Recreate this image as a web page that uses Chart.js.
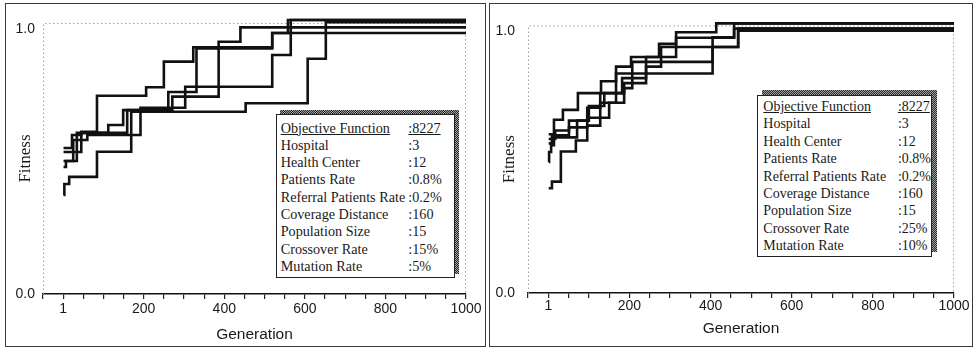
<!DOCTYPE html>
<html><head><meta charset="utf-8">
<script src="https://cdn.jsdelivr.net/npm/chart.js@4.4.0/dist/chart.umd.min.js"></script>
<style>
html,body{margin:0;padding:0;background:#fff;}
body{width:973px;height:348px;position:relative;overflow:hidden;}
.panel{position:absolute;border:1.5px solid #3a3a3a;box-sizing:border-box;}
.cv{position:absolute;}
.shadow{position:absolute;background:repeating-conic-gradient(#2a2a2a 0 25%, #a0a0a0 0 50%) 0 0/2px 2px;}
.info{position:absolute;background:#fff;border:1px solid #222;box-sizing:border-box;font-family:'Liberation Serif','Times New Roman',serif;color:#1a1a1a;}
.info table{border-collapse:collapse;}
.info td{padding:0;white-space:nowrap;}
.info tr:first-child td{text-decoration:underline;}
</style></head>
<body>
<div class="panel" style="left:5px;top:3px;width:481px;height:344px;"></div>
<div class="panel" style="left:489px;top:3px;width:484px;height:344px;"></div>
<canvas id="leftChart" class="cv" width="478" height="341" style="left:6px;top:4px;"></canvas>
<canvas id="rightChart" class="cv" width="480" height="341" style="left:491px;top:4px;"></canvas>
<div class="shadow" style="left:280px;top:110px;width:179px;height:164px;"></div>
<div class="info" id="leftInfo" style="left:276px;top:114px;width:179px;height:164px;padding:4.6px 0 0 3.7px;font-size:14.2px;line-height:17.3px;"></div>
<div class="shadow" style="left:762px;top:90px;width:175px;height:162px;"></div>
<div class="info" id="rightInfo" style="left:757px;top:95px;width:175px;height:162px;padding:2px 0 0 5.3px;font-size:14px;line-height:17.4px;"></div>
<script>
// ---- Left panel: crossover 15%, mutation 5% ----
const leftGen1=[1,22,45,84,206,250,323,519,1000];
const leftFit1=[0.551,0.600,0.612,0.748,0.780,0.877,0.931,0.985,0.985];
const leftGen2=[1,7,34,112,149,261,331,519,558,1000];
const leftFit2=[0.479,0.502,0.608,0.638,0.694,0.762,0.927,0.985,1.034,1.034];
const leftGen3=[1,45,159,271,386,440,1000];
const leftFit3=[0.536,0.608,0.694,0.745,0.952,1.006,1.006];
const leftGen4=[1,25,60,192,303,519,565,1000];
const leftFit4=[0.502,0.581,0.600,0.703,0.782,0.902,1.034,1.034];
const leftGen5=[1,3,15,84,169,453,607,652,1000];
const leftFit5=[0.374,0.415,0.442,0.537,0.688,0.720,0.888,1.026,1.026];

// ---- Right panel: crossover 25%, mutation 10% ----
const rightGen1=[1,14,36,73,130,167,204,273,315,414,1000];
const rightFit1=[0.606,0.661,0.699,0.763,0.808,0.864,0.901,0.951,0.995,1.029,1.029];
const rightGen2=[1,17,51,96,128,182,241,315,458,1000];
const rightFit2=[0.588,0.620,0.658,0.707,0.763,0.820,0.901,0.974,1.029,1.029];
const rightGen3=[1,2,7,14,71,100,138,187,241,278,468,1000];
const rightFit3=[0.500,0.538,0.564,0.594,0.658,0.714,0.763,0.801,0.864,0.939,1.009,1.009];
const rightGen4=[1,9,51,96,150,187,207,405,468,1000];
const rightFit4=[0.571,0.602,0.632,0.669,0.726,0.782,0.882,0.939,1.001,1.001];
const rightGen5=[1,9,31,68,96,128,167,405,458,1000];
const rightFit5=[0.400,0.425,0.540,0.582,0.639,0.726,0.838,0.976,1.009,1.009];

// ---- Axis ticks ----
const xMin=-50, xMax=1000, xStep=50;
const xLabelled=[200,400,600,800,1000];
const yTickValues=[0,1];

// ---- Parameter boxes ----
const paramNames=['Objective Function','Hospital','Health Center','Patients Rate','Referral Patients Rate','Coverage Distance','Population Size','Crossover Rate','Mutation Rate'];
const leftParams=[':8227',':3',':12',':0.8%',':0.2%',':160',':15',':15%',':5%'];
const rightParams=[':8227',':3',':12',':0.8%',':0.2%',':160',':15',':25%',':10%'];

function fillInfo(id, values, colW){
  const el=document.getElementById(id);
  let h='<table>';
  paramNames.forEach((n,i)=>{h+='<tr><td style="width:'+colW+'px">'+n+'</td><td>'+values[i]+'</td></tr>';});
  el.innerHTML=h+'</table>';
}
fillInfo('leftInfo',leftParams,127.6);
fillInfo('rightInfo',rightParams,135);

const framePlugin={id:'frame',beforeDatasetsDraw(chart){
  const {ctx,chartArea:a}=chart;
  ctx.save();ctx.strokeStyle='#a0a0a0';ctx.lineWidth=1;ctx.setLineDash([1.5,2.5]);
  ctx.beginPath();
  ctx.moveTo(a.left+0.5,a.bottom);ctx.lineTo(a.left+0.5,a.top+0.5);
  ctx.lineTo(a.right-0.5,a.top+0.5);ctx.lineTo(a.right-0.5,a.bottom);
  ctx.stroke();ctx.restore();
}};

function xLabel(v){
  if(v===0) return '1';
  return xLabelled.includes(v)?String(v):'';
}

function makeChart(id, series, g){
  return new Chart(document.getElementById(id),{
    type:'line',
    data:{datasets:series.map(s=>({
      data:s[0].map((x,i)=>({x:x,y:s[1][i]})),
      stepped:true,borderColor:'#111',borderWidth:2.6,pointRadius:0,fill:false,clip:false,tension:0
    }))},
    options:{
      responsive:false,animation:false,
      layout:{padding:{left:0,top:g.padTop,right:g.padRight,bottom:0}},
      plugins:{legend:{display:false},tooltip:{enabled:false}},
      scales:{
        x:{type:'linear',min:xMin,max:xMax,
          afterFit:s=>{s.height=g.xH;},
          ticks:{stepSize:xStep,autoSkip:false,maxRotation:0,minRotation:0,padding:g.xPad,color:'#1a1a1a',
            font:{family:"'Liberation Sans', Arial, sans-serif",size:14},callback:(v)=>xLabel(v)},
          grid:{drawOnChartArea:false,drawTicks:true,tickLength:5,color:'#222',lineWidth:1.2},
          border:{display:true,color:'#111',width:1.6},
          title:{display:true,text:'Generation',color:'#1a1a1a',
            font:{family:"'Liberation Sans', Arial, sans-serif",size:15.5},padding:{top:0,bottom:g.titlePadX}}
        },
        y:{min:0,max:g.yMax,
          afterFit:s=>{s.width=g.yW;},
          afterBuildTicks:s=>{s.ticks=yTickValues.map(v=>({value:v}));},
          ticks:{padding:g.yPad,color:'#1a1a1a',font:{family:"'Liberation Sans', Arial, sans-serif",size:14},
            callback:v=>Number(v).toFixed(1)},
          grid:{display:false,drawTicks:false},
          border:{display:false},
          title:{display:true,text:'Fitness',color:'#1a1a1a',
            font:{family:"'Liberation Serif','Times New Roman',serif",size:17},padding:{top:g.titlePadY,bottom:0}}
        }
      }
    },
    plugins:[framePlugin]
  });
}

makeChart('leftChart',[[leftGen1,leftFit1],[leftGen2,leftFit2],[leftGen3,leftFit3],[leftGen4,leftFit4],[leftGen5,leftFit5]],
  {padTop:19,padRight:18,yW:37,xH:51,yMax:271/265,xPad:2,titlePadX:1,titlePadY:9,yPad:8});
makeChart('rightChart',[[rightGen1,rightFit1],[rightGen2,rightFit2],[rightGen3,rightFit3],[rightGen4,rightFit4],[rightGen5,rightFit5]],
  {padTop:17,padRight:17,yW:37,xH:52,yMax:272/266.3,xPad:0,titlePadX:7,titlePadY:8,yPad:13});
</script>
</body></html>
